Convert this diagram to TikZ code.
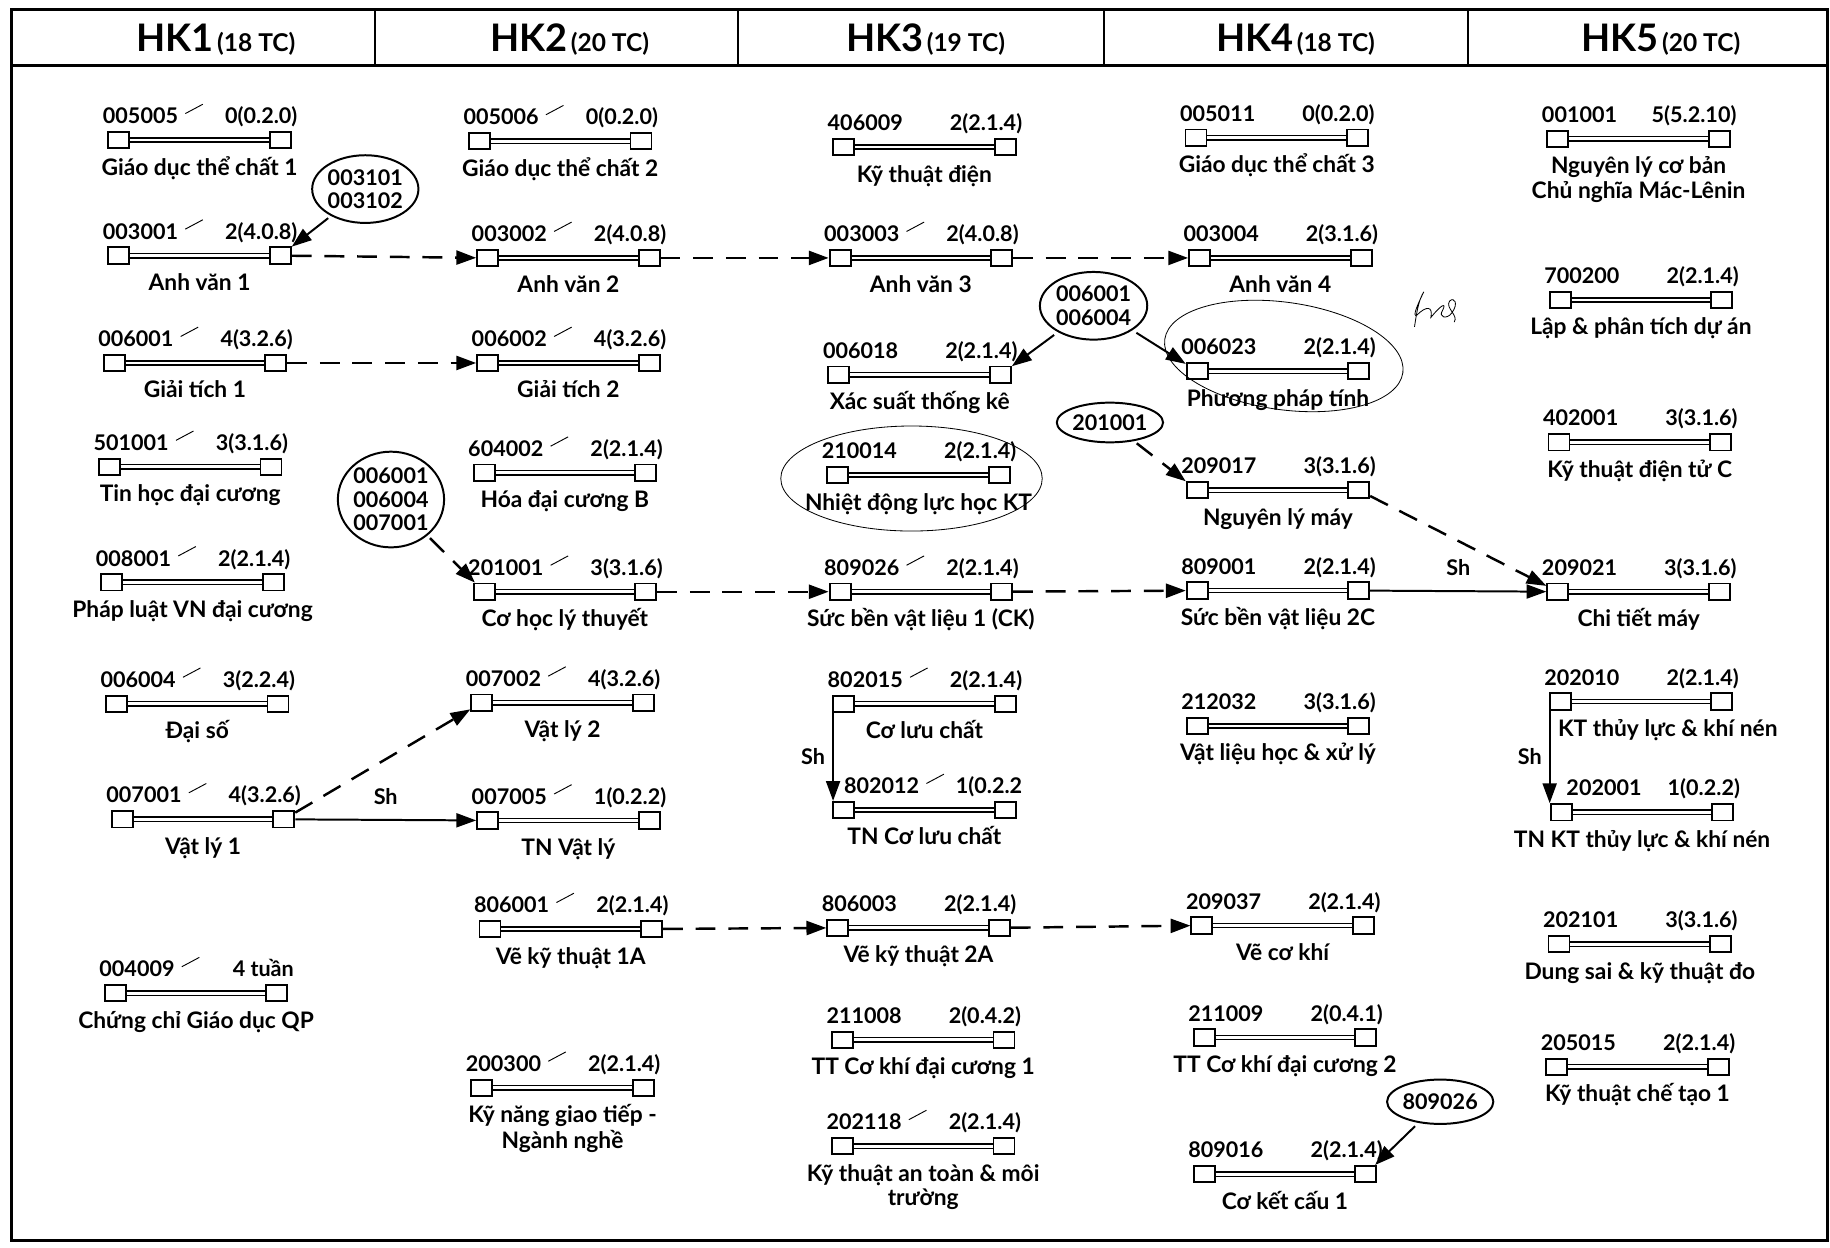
\documentclass[tikz,border=0pt]{standalone}
\usepackage{fontspec}
\setmainfont{Lato}
\usetikzlibrary{arrows.meta,shapes.geometric}
\newcommand\lblfont{\fontsize{18.5}{21}\selectfont\bfseries}
\newcommand\ttlfont{\fontsize{19.5}{21}\selectfont\bfseries}
\newcommand\bubfont{\fontsize{18.5}{20}\selectfont\bfseries}
\newcommand\hkbig{\fontsize{32.5}{36}\selectfont\bfseries}
\newcommand\hksmall{\fontsize{21}{22}\selectfont\bfseries}
\tikzset{
 sq/.style={draw,line width=1.6pt,minimum width=18pt,minimum height=14pt,inner sep=0pt,fill=white},
 bar/.style={double,double distance=2.4pt,line width=1.3pt},
 lbl/.style={font=\lblfont,inner sep=0pt},
 ttl/.style={font=\ttlfont,inner sep=0pt},
 dep/.style={line width=2.1pt,dash pattern=on 17pt off 11pt,-{Triangle[length=17pt,width=12pt]}},
 sol/.style={line width=1.7pt,-{Triangle[length=17pt,width=12pt]}},
 bub/.style={draw,ellipse,line width=1.7pt,inner sep=0pt,font=\bubfont,align=center},
 hand/.style={line width=0.7pt},
 pen/.style={line width=0.8pt},
 hdr/.style={inner sep=0pt,anchor=base},
 shl/.style={font=\lblfont,inner sep=0pt},
}
% #1 code x-shift, #2 id, #3 x, #4 y, #5 code, #6 credit, #7 title
\newcommand\course[7][0]{%
 \node[sq,anchor=west] (#2L) at (#3,#4) {};
 \node[sq,anchor=east] (#2R) at (#3+158,#4) {};
 \draw[bar] (#2L) -- (#2R);
 \node[lbl,anchor=base west] (#2c) at (#3-4+#1,#4-14) {#5};
 \node[lbl,anchor=base east] (#2k) at (#3+163,#4-14) {#6};
 \node[ttl,anchor=base] (#2t) at (#3+79,#4+30) {\begin{tabular}[t]{@{}c@{}}#7\end{tabular}};
}
\newcommand\mcourse[7][0]{%
 \course[#1]{#2}{#3}{#4}{#5}{#6}{#7}%
 \draw[pen] ([shift={(6pt,2pt)}]#2c.east) -- ++(15pt,8pt);
}
\begin{document}
\begin{tikzpicture}[x=1pt,y=-1pt]
\useasboundingbox (0,0) rectangle (1568,1069);
% frame and header
\draw[line width=2.4pt] (10,8) rectangle (1566,1063);
\draw[line width=2.2pt] (10,56) -- (1566,56);
\foreach \xx in {321,632,946,1258} \draw[line width=1.8pt] (\xx,8) -- (\xx,56);
\node[hdr] (h1) at (185,44) {\hkbig HK1\hspace{3pt}\hksmall(18 TC)};
\node[hdr] (h2) at (488,44) {\hkbig HK2\hspace{3pt}\hksmall(20 TC)};
\node[hdr] (h3) at (793,44) {\hkbig HK3\hspace{3pt}\hksmall(19 TC)};
\node[hdr] (h4) at (1110,44) {\hkbig HK4\hspace{3pt}\hksmall(18 TC)};
\node[hdr] (h5) at (1423,44) {\hkbig HK5\hspace{3pt}\hksmall(20 TC)};
% HK1
\mcourse{c1}{92}{120}{005005}{0(0.2.0)}{Giáo dục thể chất 1}
\mcourse{c2}{92}{219}{003001}{2(4.0.8)}{Anh văn 1}
\mcourse{c3}{88}{311}{006001}{4(3.2.6)}{Giải tích 1}
\mcourse{c4}{84}{400}{501001}{3(3.1.6)}{Tin học đại cương}
\mcourse{c5}{86}{499}{008001}{2(2.1.4)}{Pháp luật VN đại cương}
\mcourse{c6}{90}{603}{006004}{3(2.2.4)}{Đại số}
\mcourse{c7}{95}{702}{007001}{4(3.2.6)}{Vật lý 1}
\mcourse{c8}{89}{851}{004009}{4 tuần}{Chứng chỉ Giáo dục QP}
% HK2
\mcourse{d1}{401}{121}{005006}{0(0.2.0)}{Giáo dục thể chất 2}
\mcourse{d2}{408}{221}{003002}{2(4.0.8)}{Anh văn 2}
\mcourse{d3}{408}{311}{006002}{4(3.2.6)}{Giải tích 2}
\mcourse{d4}{405}{405}{604002}{2(2.1.4)}{Hóa đại cương B}
\mcourse{d5}{405}{507}{201001}{3(3.1.6)}{Cơ học lý thuyết}
\mcourse{d6}{403}{602}{007002}{4(3.2.6)}{Vật lý 2}
\mcourse{d7}{408}{703}{007005}{1(0.2.2)}{TN Vật lý}
\mcourse{d8}{410}{796}{806001}{2(2.1.4)}{Vẽ kỹ thuật 1A}
\mcourse{d9}{403}{932}{200300}{2(2.1.4)}{Kỹ năng giao tiếp -\\Ngành nghề}
% HK3
\course{e1}{713}{126}{406009}{2(2.1.4)}{Kỹ thuật điện}
\mcourse{e2}{710}{221}{003003}{2(4.0.8)}{Anh văn 3}
\course{e3}{709}{321}{006018}{2(2.1.4)}{Xác suất thống kê}
\course{e4}{708}{407}{210014}{2(2.1.4)}{Nhiệt động lực học KT}
\mcourse{e5}{710}{507}{809026}{2(2.1.4)}{Sức bền vật liệu 1 (CK)}
\mcourse{e6}{713}{603}{802015}{2(2.1.4)}{Cơ lưu chất}
\mcourse[14]{e7}{713}{694}{802012}{1(0.2.2}{TN Cơ lưu chất}
\course{e8}{708}{795}{806003}{2(2.1.4)}{Vẽ kỹ thuật 2A}
\course{e9}{712}{891}{211008}{2(0.4.2)}{TT Cơ khí đại cương 1}
\mcourse{e10}{712}{982}{202118}{2(2.1.4)}{Kỹ thuật an toàn \& môi\\trường}
% HK4
\course{f1}{1015}{118}{005011}{0(0.2.0)}{Giáo dục thể chất 3}
\course{f2}{1018}{221}{003004}{2(3.1.6)}{Anh văn 4}
\course{f3}{1016}{318}{006023}{2(2.1.4)}{Phương pháp tính}
\course{f4}{1016}{420}{209017}{3(3.1.6)}{Nguyên lý máy}
\course{f5}{1016}{506}{809001}{2(2.1.4)}{Sức bền vật liệu 2C}
\course{f6}{1016}{622}{212032}{3(3.1.6)}{Vật liệu học \& xử lý}
\course{f7}{1020}{793}{209037}{2(2.1.4)}{Vẽ cơ khí}
\course{f8}{1022}{889}{211009}{2(0.4.1)}{TT Cơ khí đại cương 2}
\course{f9}{1022}{1006}{809016}{2(2.1.4)}{Cơ kết cấu 1}
% HK5
\course{g1}{1325}{119}{001001}{5(5.2.10)}{Nguyên lý cơ bản\\Chủ nghĩa Mác-Lênin}
\course{g2}{1327}{257}{700200}{2(2.1.4)}{Lập \& phân tích dự án}
\course{g3}{1326}{379}{402001}{3(3.1.6)}{Kỹ thuật điện tử C}
\course{g4}{1325}{507}{209021}{3(3.1.6)}{Chi tiết máy}
\course{g5}{1327}{601}{202010}{2(2.1.4)}{\hspace*{46pt}KT thủy lực \& khí nén}
\course[18]{g6}{1328}{696}{202001}{1(0.2.2)}{TN KT thủy lực \& khí nén}
\course{g7}{1326}{809}{202101}{3(3.1.6)}{Dung sai \& kỹ thuật đo}
\course{g8}{1324}{914}{205015}{2(2.1.4)}{Kỹ thuật chế tạo 1}
% bubbles
\node[bub,minimum width=88pt,minimum height=58pt] (b1) at (313,162) {003101\\003102};
\node[bub,minimum width=88pt,minimum height=82pt] (b2) at (335,428) {006001\\006004\\007001};
\node[bub,minimum width=92pt,minimum height=58pt] (b3) at (937,262) {006001\\006004};
\node[bub,minimum width=88pt,minimum height=34pt] (b4) at (951,362) {201001};
\node[bub,minimum width=90pt,minimum height=38pt] (b5) at (1234,944) {809026};
% hand-drawn circles
\draw[hand] (781,410) ellipse [x radius=112pt,y radius=45pt];
\draw[hand,rotate around={-8:(1100,305)}] (1100,305) ellipse [x radius=103pt,y radius=46pt];
\draw[hand] (1212,280) .. controls (1214,266) and (1216,256) .. (1220,250)
  .. controls (1214,262) and (1210,272) .. (1214,270)
  .. controls (1222,262) and (1228,262) .. (1226,272)
  .. controls (1234,262) and (1240,258) .. (1236,266)
  .. controls (1232,272) and (1240,274) .. (1244,268)
  .. controls (1250,260) and (1246,254) .. (1242,258)
  .. controls (1238,264) and (1250,270) .. (1246,276);
% connectors
\draw[sol,shorten <=3pt] (b1) -- (c2R);
\draw[dep] (c2R) -- (d2L);
\draw[dep] (d2R) -- (e2L);
\draw[dep] (e2R) -- (f2L);
\draw[dep] (c3R) -- (d3L);
\draw[dep] (c7R) -- (d6L);
\draw[sol] (c7R) -- node[shl,above=12pt] {Sh} (d7L);
\draw[dep,shorten <=3pt] (b2) -- (d5L);
\draw[dep] (d5R) -- (e5L);
\draw[dep] (e5R) -- (f5L);
\draw[sol] (f5R) -- node[shl,above=12pt] {Sh} (g4L);
\draw[dep] (f4R) -- (g4L);
\draw[dep] (d8R) -- (e8L);
\draw[dep] (e8R) -- (f7L);
\draw[sol,shorten <=4pt] (b3) -- (e3R);
\draw[sol,shorten <=4pt] (b3) -- (f3L);
\draw[dep,shorten <=3pt] (b4) -- (f4L);
\draw[sol,shorten <=4pt] (b5) -- (f9R);
\draw[sol] ([xshift=0.8pt]e6L.south west) -- ([xshift=0.8pt]e6L.south west |- e7L.north) node[shl,midway,left=6pt] {Sh};
\draw[sol] ([xshift=0.8pt]g5L.south west) -- ([xshift=0.8pt]g5L.south west |- g6L.north) node[shl,midway,left=6pt] {Sh};
\end{tikzpicture}
\end{document}
